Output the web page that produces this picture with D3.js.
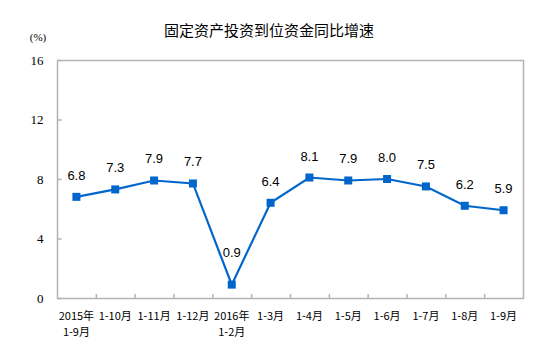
<!DOCTYPE html>
<html>
<head>
<meta charset="utf-8">
<script src="https://cdn.jsdelivr.net/npm/d3@7"></script>
<style>
  body { margin: 0; background: #fff; }
  svg { display: block; }
</style>
</head>
<body>
<svg id="chart" width="553" height="362"></svg>
<script>
// data
var periods = [
    ['2015年', '1-9月'], ['1-10月'], ['1-11月'], ['1-12月'],
    ['2016年', '1-2月'], ['1-3月'], ['1-4月'], ['1-5月'],
    ['1-6月'], ['1-7月'], ['1-8月'], ['1-9月']
];
var growth = [6.8, 7.3, 7.9, 7.7, 0.9, 6.4, 8.1, 7.9, 8.0, 7.5, 6.2, 5.9];
var yTicks = [0, 4, 8, 12, 16];

const LINE_COLOR = '#0066cc';
const AXIS_COLOR = '#b3b3b3';

(function() {
    var svg = d3.select('#chart');
    var left = 57, right = 523, top = 60, bottom = 298;

    var x = d3.scaleBand()
        .domain(d3.range(periods.length))
        .range([left, right]);
    var y = d3.scaleLinear()
        .domain([0, 16])
        .range([bottom, top]);

    // title
    svg.append('text')
        .attr('x', 269)
        .attr('y', 36)
        .attr('text-anchor', 'middle')
        .style('font-family', '"Noto Sans CJK SC", sans-serif')
        .style('font-size', '15px')
        .style('fill', '#000')
        .text('固定资产投资到位资金同比增速');

    svg.append('text')
        .attr('x', 38)
        .attr('y', 41)
        .attr('text-anchor', 'middle')
        .style('font-family', '"Liberation Serif", serif')
        .style('font-size', '11px')
        .text('(%)');

    // plot frame
    svg.append('rect')
        .attr('x', left + 0.5)
        .attr('y', top + 0.5)
        .attr('width', right - left)
        .attr('height', bottom - top)
        .style('fill', 'none')
        .style('stroke', AXIS_COLOR)
        .style('stroke-width', 1.5);

    // y axis
    var yAxis = d3.axisLeft(y)
        .tickValues(yTicks)
        .tickSize(-4)
        .tickPadding(14);
    var gy = svg.append('g')
        .attr('transform', 'translate(' + (left + 0.5) + ',0)')
        .call(yAxis);
    gy.select('.domain').remove();
    gy.selectAll('line').style('stroke', AXIS_COLOR).style('stroke-width', 1.5);
    gy.selectAll('text')
        .style('font-family', '"Liberation Serif", serif')
        .style('font-size', '13px')
        .style('fill', '#000');

    // x ticks at band edges
    var edges = d3.range(periods.length + 1).map(function(i) {
        return left + i * x.bandwidth();
    });
    svg.append('g').selectAll('line')
        .data(edges.slice(1, -1))
        .enter().append('line')
        .attr('x1', function(d) { return d + 0.5; })
        .attr('x2', function(d) { return d + 0.5; })
        .attr('y1', bottom + 0.5)
        .attr('y2', bottom - 4)
        .style('stroke', AXIS_COLOR)
        .style('stroke-width', 1.5);

    // x labels
    var xl = svg.append('g').selectAll('text')
        .data(periods)
        .enter().append('text')
        .attr('text-anchor', 'middle')
        .style('font-family', '"Noto Sans CJK SC", sans-serif')
        .style('font-size', '11px')
        .style('fill', '#000');
    xl.each(function(d, i) {
        var t = d3.select(this);
        var cx = x(i) + x.bandwidth() / 2;
        d.forEach(function(s, j) {
            t.append('tspan')
                .attr('x', cx)
                .attr('y', 320 + j * 16)
                .text(s);
        });
    });

    // line
    var line = d3.line()
        .x(function(d, i) { return x(i) + x.bandwidth() / 2; })
        .y(function(d) { return y(d); });
    svg.append('path')
        .datum(growth)
        .attr('d', line)
        .style('fill', 'none')
        .style('stroke', LINE_COLOR)
        .style('stroke-width', 2.2);

    // markers
    svg.append('g').selectAll('rect')
        .data(growth)
        .enter().append('rect')
        .attr('x', function(d, i) { return x(i) + x.bandwidth() / 2 - 4; })
        .attr('y', function(d) { return y(d) - 4; })
        .attr('width', 8)
        .attr('height', 8)
        .style('fill', LINE_COLOR);

    // value labels
    svg.append('g').selectAll('text')
        .data(growth)
        .enter().append('text')
        .attr('x', function(d, i) { return x(i) + x.bandwidth() / 2; })
        .attr('y', function(d) { return y(d) - (d < 2 ? 28 : 17); })
        .attr('text-anchor', 'middle')
        .style('font-family', '"Liberation Sans", Arial, sans-serif')
        .style('font-size', '13px')
        .style('fill', '#000')
        .text(function(d) { return d.toFixed(1); });
})();
</script>
</body>
</html>
